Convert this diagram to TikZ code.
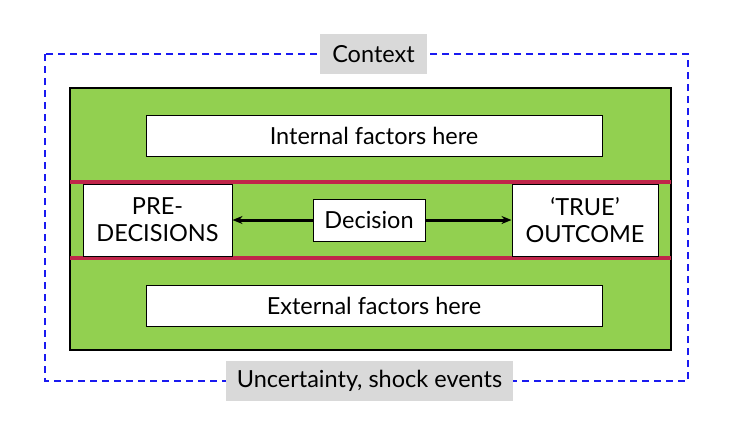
\documentclass[tikz,border=0pt]{standalone}
\usepackage{fontspec}
\setmainfont{Lato}
\usetikzlibrary{arrows.meta}
\definecolor{grn}{HTML}{92D050}
\definecolor{redl}{HTML}{C0264A}
\definecolor{gry}{HTML}{D9D9D9}
\definecolor{blu}{HTML}{1A1AF0}
\tikzset{
  wbox/.style={draw=black, fill=white, line width=1pt, inner sep=0pt, font=\fontsize{23.5}{27}\selectfont, align=center},
  glabel/.style={fill=gry, inner sep=0pt, font=\fontsize{23.5}{27}\selectfont},
  arr/.style={-{Stealth[length=10pt,width=8pt]}, line width=3pt},
}
\begin{document}
\begin{tikzpicture}[x=1pt,y=-1pt]
\useasboundingbox (0,0) rectangle (738,426);
% context dashed
\draw[blu, line width=1.8pt, dash pattern=on 7pt off 5pt] (45,54) rectangle (688,381);
% green
\draw[fill=grn, draw=black, line width=1.5pt] (70,88) rectangle (671,350);
% red lines
\coordinate (r1l) at (70,182); \coordinate (r1r) at (671,182);
\coordinate (r2l) at (70,258); \coordinate (r2r) at (671,258);
\draw[redl, line width=3.2pt] (r1l) -- (r1r);
\draw[redl, line width=3.2pt] (r2l) -- (r2r);
% boxes
\node[wbox, minimum width=456pt, minimum height=41pt] (int) at (374,135.5) {Internal factors here};
\node[wbox, minimum width=456pt, minimum height=41pt] (ext) at (374,305.5) {External factors here};
\node[wbox, minimum width=149pt, minimum height=72pt] (pre) at (157.5,220) {PRE-\\DECISIONS};
\node[wbox, minimum width=146pt, minimum height=72pt] (out) at (585,220) {‘TRUE’\\OUTCOME};
\node[wbox, minimum width=112pt, minimum height=42pt] (dec) at (369,220) {Decision};
\draw[arr] (dec) -- (pre);
\draw[arr] (dec) -- (out);
% labels
\node[glabel, minimum width=107pt, minimum height=40pt] (ctx) at (373.5,54) {Context};
\node[glabel, minimum width=287pt, minimum height=40pt] (unc) at (369.5,381) {Uncertainty, shock events};
\end{tikzpicture}
\end{document}
